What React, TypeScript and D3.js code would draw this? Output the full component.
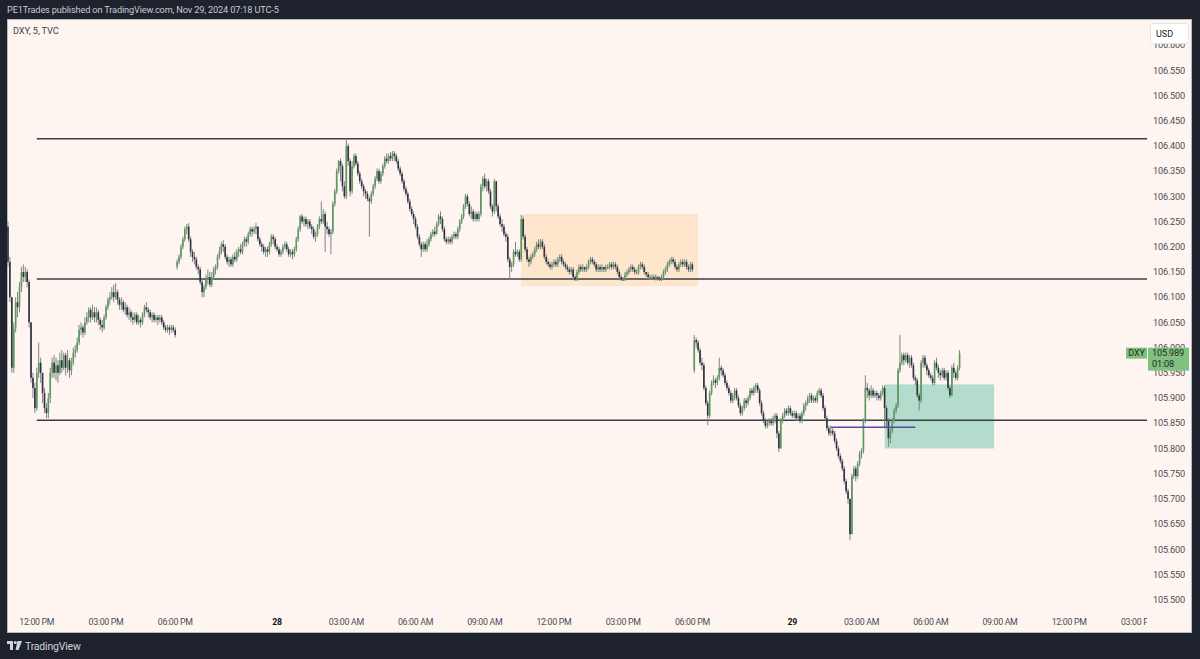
import React from "react";
import * as d3 from "d3";

// session start times (5 minute bars) and the open of each first bar
const sessionStarts = ["2024-11-27 10:45", "2024-11-27 19:40", "2024-11-28 19:45"];
const sessionOpens = [106.24, 106.16, 105.955];

// Nov 27 session
const closeA = [
  106.17, 106.10, 105.96, 106.04, 106.09, 106.08, 106.12, 106.15, 106.14, 106.15,
  106.13, 106.05, 105.94, 105.92, 105.88, 105.95, 105.97, 105.95, 105.91, 105.88,
  105.87, 105.90, 105.95, 105.97, 105.95, 105.965, 105.95, 105.975, 105.96, 105.985,
  105.96, 105.975, 105.955, 105.97, 105.99, 105.995, 106.01, 106.035, 106.04, 106.03,
  106.05, 106.06, 106.075, 106.06, 106.07, 106.06, 106.07, 106.055, 106.045, 106.04,
  106.06, 106.08, 106.095, 106.10, 106.11, 106.10, 106.11, 106.095, 106.085, 106.09,
  106.075, 106.08, 106.065, 106.07, 106.06, 106.055, 106.065, 106.05, 106.055, 106.05,
  106.065, 106.08, 106.075, 106.07, 106.06, 106.065, 106.055, 106.06, 106.055, 106.06,
  106.05, 106.04, 106.035, 106.04, 106.035, 106.04, 106.035, 106.025,
];
const highA = [
  106.25, 106.18, 106.10, 106.05, 106.10, 106.11, 106.13, 106.16, 106.165, 106.16,
  106.155, 106.135, 106.05, 105.95, 105.93, 105.96, 106.01, 105.98, 105.95, 105.92,
  105.89, 105.91, 105.96, 105.98, 105.985, 105.98, 105.975, 105.99, 105.995, 105.99,
  105.99, 105.995, 105.98, 105.98, 106.00, 106.005, 106.02, 106.045, 106.05, 106.045,
  106.06, 106.07, 106.08, 106.08, 106.085, 106.08, 106.08, 106.075, 106.06, 106.055,
  106.065, 106.085, 106.10, 106.11, 106.12, 106.125, 106.128, 106.115, 106.10, 106.10,
  106.095, 106.09, 106.085, 106.08, 106.075, 106.07, 106.07, 106.07, 106.065, 106.06,
  106.07, 106.085, 106.09, 106.08, 106.075, 106.07, 106.07, 106.065, 106.065, 106.065,
  106.065, 106.055, 106.045, 106.045, 106.045, 106.045, 106.045, 106.04,
];
const lowA = [
  106.16, 106.09, 105.95, 105.95, 106.03, 106.06, 106.07, 106.11, 106.13, 106.13,
  106.12, 106.04, 105.93, 105.90, 105.87, 105.875, 105.94, 105.93, 105.89, 105.87,
  105.86, 105.86, 105.89, 105.94, 105.94, 105.935, 105.93, 105.945, 105.95, 105.955,
  105.945, 105.95, 105.94, 105.945, 105.965, 105.98, 105.99, 106.005, 106.025, 106.02,
  106.025, 106.045, 106.05, 106.05, 106.055, 106.05, 106.05, 106.045, 106.035, 106.03,
  106.035, 106.055, 106.075, 106.085, 106.095, 106.09, 106.095, 106.085, 106.075, 106.075,
  106.07, 106.065, 106.06, 106.055, 106.05, 106.045, 106.05, 106.045, 106.045, 106.04,
  106.045, 106.06, 106.07, 106.06, 106.055, 106.05, 106.05, 106.05, 106.045, 106.05,
  106.045, 106.035, 106.03, 106.03, 106.025, 106.03, 106.03, 106.02,
];

// Nov 27 evening -> Nov 28 session
const closeB = [
  106.17, 106.18, 106.20, 106.215, 106.235, 106.24, 106.215, 106.19, 106.18, 106.175,
  106.16, 106.155, 106.13, 106.11, 106.12, 106.135, 106.14, 106.125, 106.14, 106.155,
  106.16, 106.18, 106.19, 106.205, 106.20, 106.18, 106.17, 106.175, 106.165, 106.18,
  106.175, 106.19, 106.195, 106.19, 106.205, 106.215, 106.21, 106.225, 106.235, 106.23,
  106.235, 106.24, 106.215, 106.205, 106.20, 106.19, 106.195, 106.19, 106.205, 106.22,
  106.215, 106.20, 106.195, 106.185, 106.19, 106.20, 106.205, 106.195, 106.185, 106.19,
  106.185, 106.195, 106.215, 106.235, 106.26, 106.25, 106.255, 106.245, 106.25, 106.24,
  106.235, 106.22, 106.225, 106.24, 106.255, 106.25, 106.265, 106.24, 106.235, 106.225,
  106.23, 106.285, 106.31, 106.35, 106.37, 106.36, 106.32, 106.30, 106.40, 106.37,
  106.31, 106.36, 106.38, 106.365, 106.345, 106.33, 106.32, 106.31, 106.305, 106.295,
  106.29, 106.305, 106.32, 106.335, 106.35, 106.33, 106.345, 106.36, 106.375, 106.37,
  106.38, 106.375, 106.385, 106.38, 106.37, 106.355, 106.345, 106.33, 106.315, 106.305,
  106.29, 106.275, 106.265, 106.255, 106.24, 106.22, 106.205, 106.195, 106.205, 106.195,
  106.205, 106.215, 106.225, 106.23, 106.225, 106.245, 106.26, 106.255, 106.235, 106.215,
  106.21, 106.215, 106.21, 106.22, 106.225, 106.22, 106.235, 106.25, 106.26, 106.28,
  106.30, 106.285, 106.265, 106.27, 106.255, 106.265, 106.255, 106.265, 106.32, 106.335,
  106.32, 106.33, 106.31, 106.28, 106.27, 106.33, 106.28, 106.26, 106.245, 106.24,
  106.225, 106.22, 106.175, 106.16, 106.165, 106.19, 106.185, 106.19, 106.175, 106.255,
  106.22, 106.195, 106.175, 106.17, 106.18, 106.185, 106.195, 106.205, 106.20, 106.21,
  106.20, 106.18, 106.17, 106.165, 106.16, 106.165, 106.17, 106.165, 106.175, 106.18,
  106.17, 106.165, 106.16, 106.155, 106.15, 106.155, 106.14, 106.135, 106.15, 106.16,
  106.155, 106.16, 106.155, 106.16, 106.17, 106.175, 106.17, 106.165, 106.155, 106.16,
  106.155, 106.16, 106.155, 106.16, 106.16, 106.165, 106.16, 106.165, 106.16, 106.15,
  106.14, 106.135, 106.135, 106.145, 106.15, 106.155, 106.16, 106.155, 106.15, 106.15,
  106.16, 106.165, 106.16, 106.15, 106.145, 106.14, 106.14, 106.14, 106.138, 106.14,
  106.138, 106.136, 106.14, 106.15, 106.155, 106.165, 106.17, 106.175, 106.17, 106.16,
  106.155, 106.165, 106.17, 106.165, 106.17, 106.16, 106.155, 106.165, 106.155,
];
const highB = [
  106.175, 106.185, 106.205, 106.22, 106.24, 106.245, 106.247, 106.22, 106.195, 106.19,
  106.18, 106.165, 106.16, 106.135, 106.125, 106.145, 106.155, 106.15, 106.15, 106.16,
  106.165, 106.185, 106.20, 106.21, 106.213, 106.205, 106.185, 106.18, 106.18, 106.185,
  106.19, 106.195, 106.20, 106.205, 106.21, 106.22, 106.22, 106.23, 106.24, 106.24,
  106.24, 106.247, 106.24, 106.22, 106.21, 106.205, 106.20, 106.20, 106.21, 106.225,
  106.225, 106.22, 106.205, 106.20, 106.195, 106.205, 106.21, 106.21, 106.20, 106.195,
  106.195, 106.20, 106.22, 106.24, 106.263, 106.265, 106.26, 106.26, 106.255, 106.255,
  106.245, 106.24, 106.23, 106.245, 106.26, 106.29, 106.275, 106.27, 106.25, 106.24,
  106.235, 106.29, 106.315, 106.355, 106.372, 106.375, 106.365, 106.33, 106.415, 106.405,
  106.375, 106.37, 106.385, 106.385, 106.37, 106.35, 106.335, 106.325, 106.315, 106.31,
  106.30, 106.31, 106.325, 106.34, 106.355, 106.355, 106.35, 106.365, 106.38, 106.385,
  106.385, 106.388, 106.39, 106.39, 106.385, 106.375, 106.36, 106.35, 106.335, 106.32,
  106.31, 106.295, 106.28, 106.27, 106.26, 106.245, 106.225, 106.21, 106.21, 106.21,
  106.215, 106.22, 106.23, 106.235, 106.24, 106.25, 106.265, 106.27, 106.26, 106.24,
  106.22, 106.22, 106.22, 106.225, 106.23, 106.23, 106.24, 106.255, 106.265, 106.285,
  106.305, 106.305, 106.29, 106.28, 106.275, 106.27, 106.27, 106.27, 106.325, 106.34,
  106.345, 106.335, 106.335, 106.315, 106.285, 106.335, 106.33, 106.285, 106.265, 106.255,
  106.245, 106.23, 106.225, 106.18, 106.17, 106.195, 106.21, 106.195, 106.195, 106.263,
  106.26, 106.225, 106.20, 106.18, 106.185, 106.19, 106.20, 106.21, 106.215, 106.215,
  106.215, 106.205, 106.185, 106.175, 106.17, 106.17, 106.175, 106.175, 106.18, 106.185,
  106.185, 106.175, 106.17, 106.165, 106.16, 106.16, 106.16, 106.145, 106.155, 106.165,
  106.165, 106.165, 106.16, 106.165, 106.175, 106.18, 106.18, 106.175, 106.17, 106.165,
  106.165, 106.165, 106.16, 106.165, 106.165, 106.17, 106.17, 106.17, 106.17, 106.165,
  106.155, 106.145, 106.14, 106.15, 106.155, 106.16, 106.165, 106.165, 106.16, 106.155,
  106.165, 106.17, 106.17, 106.165, 106.15, 106.15, 106.145, 106.145, 106.145, 106.145,
  106.142, 106.142, 106.145, 106.155, 106.16, 106.17, 106.175, 106.18, 106.18, 106.175,
  106.165, 106.17, 106.175, 106.175, 106.175, 106.175, 106.165, 106.17, 106.17,
];
const lowB = [
  106.155, 106.165, 106.175, 106.195, 106.21, 106.225, 106.21, 106.18, 106.17, 106.165,
  106.155, 106.145, 106.125, 106.10, 106.10, 106.115, 106.125, 106.12, 106.12, 106.135,
  106.145, 106.155, 106.175, 106.185, 106.19, 106.175, 106.165, 106.16, 106.16, 106.16,
  106.17, 106.17, 106.18, 106.185, 106.185, 106.20, 106.20, 106.205, 106.22, 106.22,
  106.225, 106.225, 106.21, 106.20, 106.19, 106.185, 106.18, 106.18, 106.185, 106.20,
  106.205, 106.195, 106.19, 106.18, 106.18, 106.185, 106.195, 106.19, 106.18, 106.18,
  106.175, 106.18, 106.19, 106.21, 106.23, 106.245, 106.24, 106.24, 106.235, 106.235,
  106.225, 106.215, 106.21, 106.22, 106.235, 106.245, 106.245, 106.19, 106.225, 106.22,
  106.185, 106.225, 106.28, 106.305, 106.345, 106.33, 106.31, 106.295, 106.295, 106.36,
  106.30, 106.305, 106.355, 106.36, 106.34, 106.325, 106.315, 106.30, 106.295, 106.29,
  106.22, 106.285, 106.30, 106.315, 106.33, 106.325, 106.325, 106.34, 106.355, 106.365,
  106.365, 106.37, 106.37, 106.37, 106.365, 106.35, 106.34, 106.325, 106.31, 106.30,
  106.285, 106.27, 106.26, 106.245, 106.235, 106.215, 106.20, 106.18, 106.19, 106.19,
  106.19, 106.20, 106.21, 106.22, 106.22, 106.225, 106.24, 106.245, 106.23, 106.21,
  106.205, 106.205, 106.205, 106.205, 106.215, 106.215, 106.215, 106.23, 106.245, 106.255,
  106.275, 106.28, 106.26, 106.255, 106.25, 106.25, 106.25, 106.25, 106.26, 106.31,
  106.315, 106.31, 106.305, 106.275, 106.26, 106.265, 106.27, 106.255, 106.24, 106.23,
  106.22, 106.21, 106.17, 106.135, 106.15, 106.16, 106.18, 106.18, 106.17, 106.17,
  106.215, 106.19, 106.17, 106.16, 106.165, 106.175, 106.18, 106.19, 106.195, 106.195,
  106.195, 106.175, 106.165, 106.16, 106.155, 106.155, 106.16, 106.16, 106.16, 106.17,
  106.165, 106.16, 106.155, 106.15, 106.145, 106.145, 106.135, 106.132, 106.132, 106.145,
  106.15, 106.15, 106.15, 106.15, 106.155, 106.165, 106.165, 106.16, 106.15, 106.15,
  106.15, 106.15, 106.15, 106.15, 106.155, 106.155, 106.155, 106.155, 106.155, 106.145,
  106.135, 106.132, 106.132, 106.132, 106.14, 106.145, 106.15, 106.15, 106.145, 106.145,
  106.145, 106.155, 106.155, 106.145, 106.14, 106.135, 106.135, 106.135, 106.135, 106.133,
  106.133, 106.132, 106.132, 106.135, 106.145, 106.15, 106.16, 106.165, 106.165, 106.155,
  106.15, 106.15, 106.16, 106.16, 106.16, 106.155, 106.15, 106.15, 106.15,
];

// Nov 28 evening -> Nov 29 session
const closeC = [
  106.015, 106.01, 105.995, 105.97, 105.965, 105.92, 105.89, 105.865, 105.91, 105.93,
  105.935, 105.93, 105.94, 105.96, 105.955, 105.945, 105.93, 105.92, 105.91, 105.895,
  105.905, 105.915, 105.90, 105.885, 105.87, 105.88, 105.895, 105.89, 105.90, 105.915,
  105.91, 105.92, 105.925, 105.915, 105.89, 105.87, 105.855, 105.845, 105.85, 105.855,
  105.85, 105.86, 105.865, 105.83, 105.80, 105.855, 105.865, 105.875, 105.87, 105.88,
  105.87, 105.865, 105.87, 105.86, 105.865, 105.855, 105.87, 105.885, 105.89, 105.90,
  105.905, 105.895, 105.90, 105.895, 105.91, 105.915, 105.905, 105.88, 105.86, 105.84,
  105.83, 105.835, 105.83, 105.815, 105.80, 105.785, 105.775, 105.76, 105.735, 105.715,
  105.70, 105.63, 105.745, 105.76, 105.745, 105.77, 105.79, 105.795, 105.855, 105.92,
  105.915, 105.905, 105.915, 105.905, 105.91, 105.905, 105.90, 105.91, 105.92, 105.88,
  105.855, 105.82, 105.835, 105.855, 105.875, 105.885, 105.955, 105.97, 105.985, 105.975,
  105.985, 105.97, 105.98, 105.965, 105.94, 105.935, 105.905, 105.895, 105.97, 105.98,
  105.965, 105.955, 105.945, 105.94, 105.93, 105.97, 105.96, 105.95, 105.945, 105.955,
  105.94, 105.95, 105.92, 105.905, 105.96, 105.95, 105.94, 105.96, 105.989,
];
const highC = [
  106.025, 106.02, 106.015, 106.0, 105.98, 105.97, 105.925, 105.895, 105.915, 105.935,
  105.945, 105.94, 105.945, 105.98, 105.965, 105.96, 105.95, 105.935, 105.925, 105.915,
  105.91, 105.92, 105.92, 105.905, 105.89, 105.885, 105.90, 105.90, 105.905, 105.92,
  105.92, 105.925, 105.93, 105.93, 105.92, 105.895, 105.875, 105.86, 105.855, 105.86,
  105.86, 105.865, 105.87, 105.87, 105.835, 105.86, 105.87, 105.88, 105.88, 105.885,
  105.885, 105.875, 105.875, 105.875, 105.87, 105.87, 105.875, 105.89, 105.895, 105.905,
  105.91, 105.91, 105.905, 105.905, 105.915, 105.92, 105.92, 105.91, 105.885, 105.865,
  105.845, 105.845, 105.84, 105.835, 105.82, 105.805, 105.79, 105.78, 105.765, 105.74,
  105.72, 105.70, 105.75, 105.765, 105.765, 105.775, 105.795, 105.80, 105.86, 105.945,
  105.93, 105.92, 105.925, 105.92, 105.915, 105.915, 105.91, 105.915, 105.925, 105.925,
  105.885, 105.86, 105.84, 105.86, 105.88, 105.89, 105.96, 106.025, 105.99, 105.99,
  105.99, 105.99, 105.985, 105.985, 105.97, 105.945, 105.94, 105.91, 105.975, 105.985,
  105.985, 105.97, 105.96, 105.95, 105.945, 105.975, 105.98, 105.965, 105.955, 105.96,
  105.96, 105.955, 105.955, 105.925, 105.965, 105.97, 105.955, 105.965, 105.995,
];
const lowC = [
  105.95, 106.0, 105.99, 105.965, 105.955, 105.915, 105.885, 105.846, 105.86, 105.905,
  105.925, 105.92, 105.925, 105.935, 105.945, 105.94, 105.925, 105.915, 105.905, 105.89,
  105.89, 105.895, 105.895, 105.88, 105.865, 105.865, 105.875, 105.88, 105.885, 105.895,
  105.905, 105.905, 105.91, 105.91, 105.885, 105.865, 105.85, 105.84, 105.84, 105.845,
  105.845, 105.845, 105.85, 105.82, 105.793, 105.80, 105.85, 105.86, 105.865, 105.865,
  105.865, 105.86, 105.86, 105.855, 105.855, 105.85, 105.85, 105.865, 105.875, 105.885,
  105.89, 105.89, 105.89, 105.89, 105.89, 105.905, 105.90, 105.875, 105.855, 105.835,
  105.825, 105.825, 105.825, 105.81, 105.795, 105.78, 105.77, 105.755, 105.73, 105.71,
  105.69, 105.618, 105.635, 105.74, 105.735, 105.74, 105.765, 105.78, 105.79, 105.85,
  105.90, 105.895, 105.90, 105.90, 105.90, 105.895, 105.895, 105.895, 105.905, 105.842,
  105.84, 105.803, 105.81, 105.83, 105.85, 105.87, 105.88, 105.95, 105.965, 105.965,
  105.97, 105.965, 105.96, 105.96, 105.935, 105.925, 105.90, 105.875, 105.89, 105.96,
  105.96, 105.945, 105.94, 105.935, 105.925, 105.925, 105.955, 105.94, 105.935, 105.94,
  105.935, 105.935, 105.915, 105.90, 105.905, 105.94, 105.935, 105.935, 105.955,
];

const closes = [closeA, closeB, closeC];
const highs = [highA, highB, highC];
const lows = [lowA, lowB, lowC];

// axis
const priceTicks = [
  105.5, 105.55, 105.6, 105.65, 105.7, 105.75, 105.8, 105.85, 105.9, 105.95, 106.0,
  106.05, 106.1, 106.15, 106.2, 106.25, 106.3, 106.35, 106.4, 106.45, 106.5, 106.55, 106.6,
];
const timeTicks = [
  "2024-11-27 12:00", "2024-11-27 15:00", "2024-11-27 18:00", "2024-11-28 00:00",
  "2024-11-28 03:00", "2024-11-28 06:00", "2024-11-28 09:00", "2024-11-28 12:00",
  "2024-11-28 15:00", "2024-11-28 18:00", "2024-11-29 00:00", "2024-11-29 03:00",
  "2024-11-29 06:00", "2024-11-29 09:00", "2024-11-29 12:00", "2024-11-29 15:00",
];
const axisEnd = "2024-11-29 16:00";

// drawings
const levels = [106.414, 106.136, 105.856];
const levelsFrom = "2024-11-27 12:00";
const rangeBox = { from: "2024-11-28 10:35", to: "2024-11-28 19:55", top: 106.265, bottom: 106.122 };
const demandBox = { from: "2024-11-29 04:00", to: "2024-11-29 08:45", top: 105.927, bottom: 105.8 };
const sweepLine = { from: "2024-11-29 01:40", to: "2024-11-29 05:20", price: 105.842 };
const lastPrice = 105.989;
const countdown = "01:08";

const parse = d3.timeParse("%Y-%m-%d %H:%M");

type Bar = { i: number; o: number; h: number; l: number; c: number };

const slots: Date[] = [];
const bars: Bar[] = [];
sessionStarts.forEach((s, si) => {
  const start = parse(s)!;
  closes[si].forEach((c, k) => {
    const o = k === 0 ? sessionOpens[si] : closes[si][k - 1];
    bars.push({ i: slots.length, o, c, h: highs[si][k], l: lows[si][k] });
    slots.push(d3.timeMinute.offset(start, 5 * k));
  });
});
{
  const end = parse(axisEnd)!;
  let t = slots[slots.length - 1];
  while (t < end) {
    t = d3.timeMinute.offset(t, 5);
    slots.push(t);
  }
}
const slotOf = (s: string) => {
  const t = +parse(s)!;
  return slots.findIndex((d) => +d === t);
};

const fmtTime = d3.timeFormat("%I:%M %p");
const fmtDay = d3.timeFormat("%-d");

const FONT = "Roboto, 'Noto Sans', sans-serif";

export default function App() {
  const W = 1200;
  const H = 659;
  const pane = { left: 7, top: 19, right: 1147, bottom: 606 };
  const frameRight = 1192;
  const frameBottom = 633;

  const x = d3.scaleLinear().domain([-0.5, 592.5]).range([pane.left, pane.right]);
  const y = d3.scaleLinear().domain([105.5, 106.55]).range([599.7, 70.3]);
  const step = x(1) - x(0);
  const bodyW = step * 0.85;

  const upFill = "#5a9a5d";
  const downFill = "#2f333e";
  const wick = "#7f838b";
  const lineCol = "#3a3e48";

  const ly = y(lastPrice);

  return (
    <svg
      width={W}
      height={H}
      viewBox={`0 0 ${W} ${H}`}
      style={{ position: "absolute", left: 0, top: 0, display: "block" }}
      fontFamily={FONT}
    >
      <defs>
        <clipPath id="pane">
          <rect x={pane.left} y={pane.top} width={pane.right - pane.left} height={frameBottom - pane.top} />
        </clipPath>
        <clipPath id="timeclip">
          <rect x={pane.left} y={pane.bottom} width={pane.right - pane.left} height={frameBottom - pane.bottom} />
        </clipPath>
      </defs>
      <rect width={W} height={H} fill="#1e222d" />
      <text x={7} y={10} dy="0.35em" fontSize={9.2} letterSpacing={-0.15} fill="#c8cbd3">
        PE1Trades published on TradingView.com, Nov 29, 2024 07:18 UTC-5
      </text>

      <rect
        x={pane.left + 0.5}
        y={pane.top + 0.5}
        width={frameRight - pane.left - 1}
        height={frameBottom - pane.top - 1}
        fill="#fff5f0"
        stroke="#b7b9bf"
      />

      <g clipPath="url(#pane)">
        <rect
          x={x(slotOf(rangeBox.from))}
          y={y(rangeBox.top)}
          width={x(slotOf(rangeBox.to)) - x(slotOf(rangeBox.from))}
          height={y(rangeBox.bottom) - y(rangeBox.top)}
          fill="#fde6cb"
        />
        <rect
          x={x(slotOf(demandBox.from))}
          y={y(demandBox.top)}
          width={x(slotOf(demandBox.to)) - x(slotOf(demandBox.from))}
          height={y(demandBox.bottom) - y(demandBox.top)}
          fill="#b3dccd"
        />
        {levels.map((p) => (
          <line
            key={p}
            x1={x(slotOf(levelsFrom))}
            x2={pane.right}
            y1={y(p)}
            y2={y(p)}
            stroke={lineCol}
            strokeWidth={1.5}
          />
        ))}
        {bars.map((b) => {
          const cx = x(b.i);
          const hi = Math.max(b.h, b.o, b.c);
          const lo = Math.min(b.l, b.o, b.c);
          const top = y(Math.max(b.o, b.c));
          const bot = y(Math.min(b.o, b.c));
          return (
            <g key={b.i}>
              <line x1={cx} x2={cx} y1={y(hi)} y2={y(lo)} stroke={wick} strokeWidth={1} />
              <rect
                x={cx - bodyW / 2}
                y={top}
                width={bodyW}
                height={Math.max(bot - top, 1.3)}
                fill={b.c >= b.o ? upFill : downFill}
              />
            </g>
          );
        })}
        <line
          x1={x(slotOf(sweepLine.from))}
          x2={x(slotOf(sweepLine.to))}
          y1={y(sweepLine.price)}
          y2={y(sweepLine.price)}
          stroke="#5e46ad"
          strokeWidth={1.5}
        />
      </g>

      {/* price scale */}
      <g fontSize={9.2} letterSpacing={-0.2} fill="#4a4d55">
        {priceTicks.map((p) => (
          <text key={p} x={1153} y={y(p)} dy="0.35em">
            {p.toFixed(3)}
          </text>
        ))}
      </g>

      {/* time scale */}
      <g fontSize={8.8} letterSpacing={-0.3} textAnchor="middle" clipPath="url(#timeclip)">
        {timeTicks.map((t) => {
          const d = parse(t)!;
          const isDay = d.getHours() === 0 && d.getMinutes() === 0;
          return (
            <text
              key={t}
              x={x(slotOf(t))}
              y={622}
              dy="0.35em"
              fill={isDay ? "#131722" : "#4a4d55"}
              fontWeight={isDay ? 700 : 400}
            >
              {isDay ? fmtDay(d) : fmtTime(d)}
            </text>
          );
        })}
      </g>

      {/* last price labels */}
      <rect x={1126} y={ly - 5.5} width={21} height={11} fill="#81c17f" />
      <text x={1136.5} y={ly} dy="0.35em" fontSize={9} letterSpacing={-0.2} textAnchor="middle" fill="#1f2a1f">
        DXY
      </text>
      <rect x={1148} y={ly - 5.5} width={41} height={23} fill="#81c17f" />
      <text x={1152} y={ly} dy="0.35em" fontSize={9.2} letterSpacing={-0.2} fill="#1f2a1f">
        {lastPrice.toFixed(3)}
      </text>
      <text x={1152} y={ly + 11} dy="0.35em" fontSize={9.2} letterSpacing={-0.2} fill="#1f2a1f">
        {countdown}
      </text>

      {/* currency badge */}
      <rect x={1150.5} y={23.5} width={38} height={20} rx={3} fill="#ffffff" stroke="#e3e4e8" />
      <text x={1156} y={33.5} dy="0.35em" fontSize={9} fill="#131722">
        USD
      </text>

      <text x={13} y={31} dy="0.35em" fontSize={9.2} letterSpacing={-0.1} fill="#3e4149">
        DXY, 5, TVC
      </text>

      {/* branding */}
      <g fill="#d1d4dc">
        <rect x={7} y={641} width={6} height={3} />
        <rect x={10} y={641} width={3} height={9} />
        <circle cx={15.3} cy={642.5} r={1.5} />
        <polygon points="17.5,641 22,641 18.5,650 15.5,650" />
        <text x={25} y={646} dy="0.35em" fontSize={10.5} letterSpacing={-0.2} fill="#d1d4dc">
          TradingView
        </text>
      </g>
    </svg>
  );
}
